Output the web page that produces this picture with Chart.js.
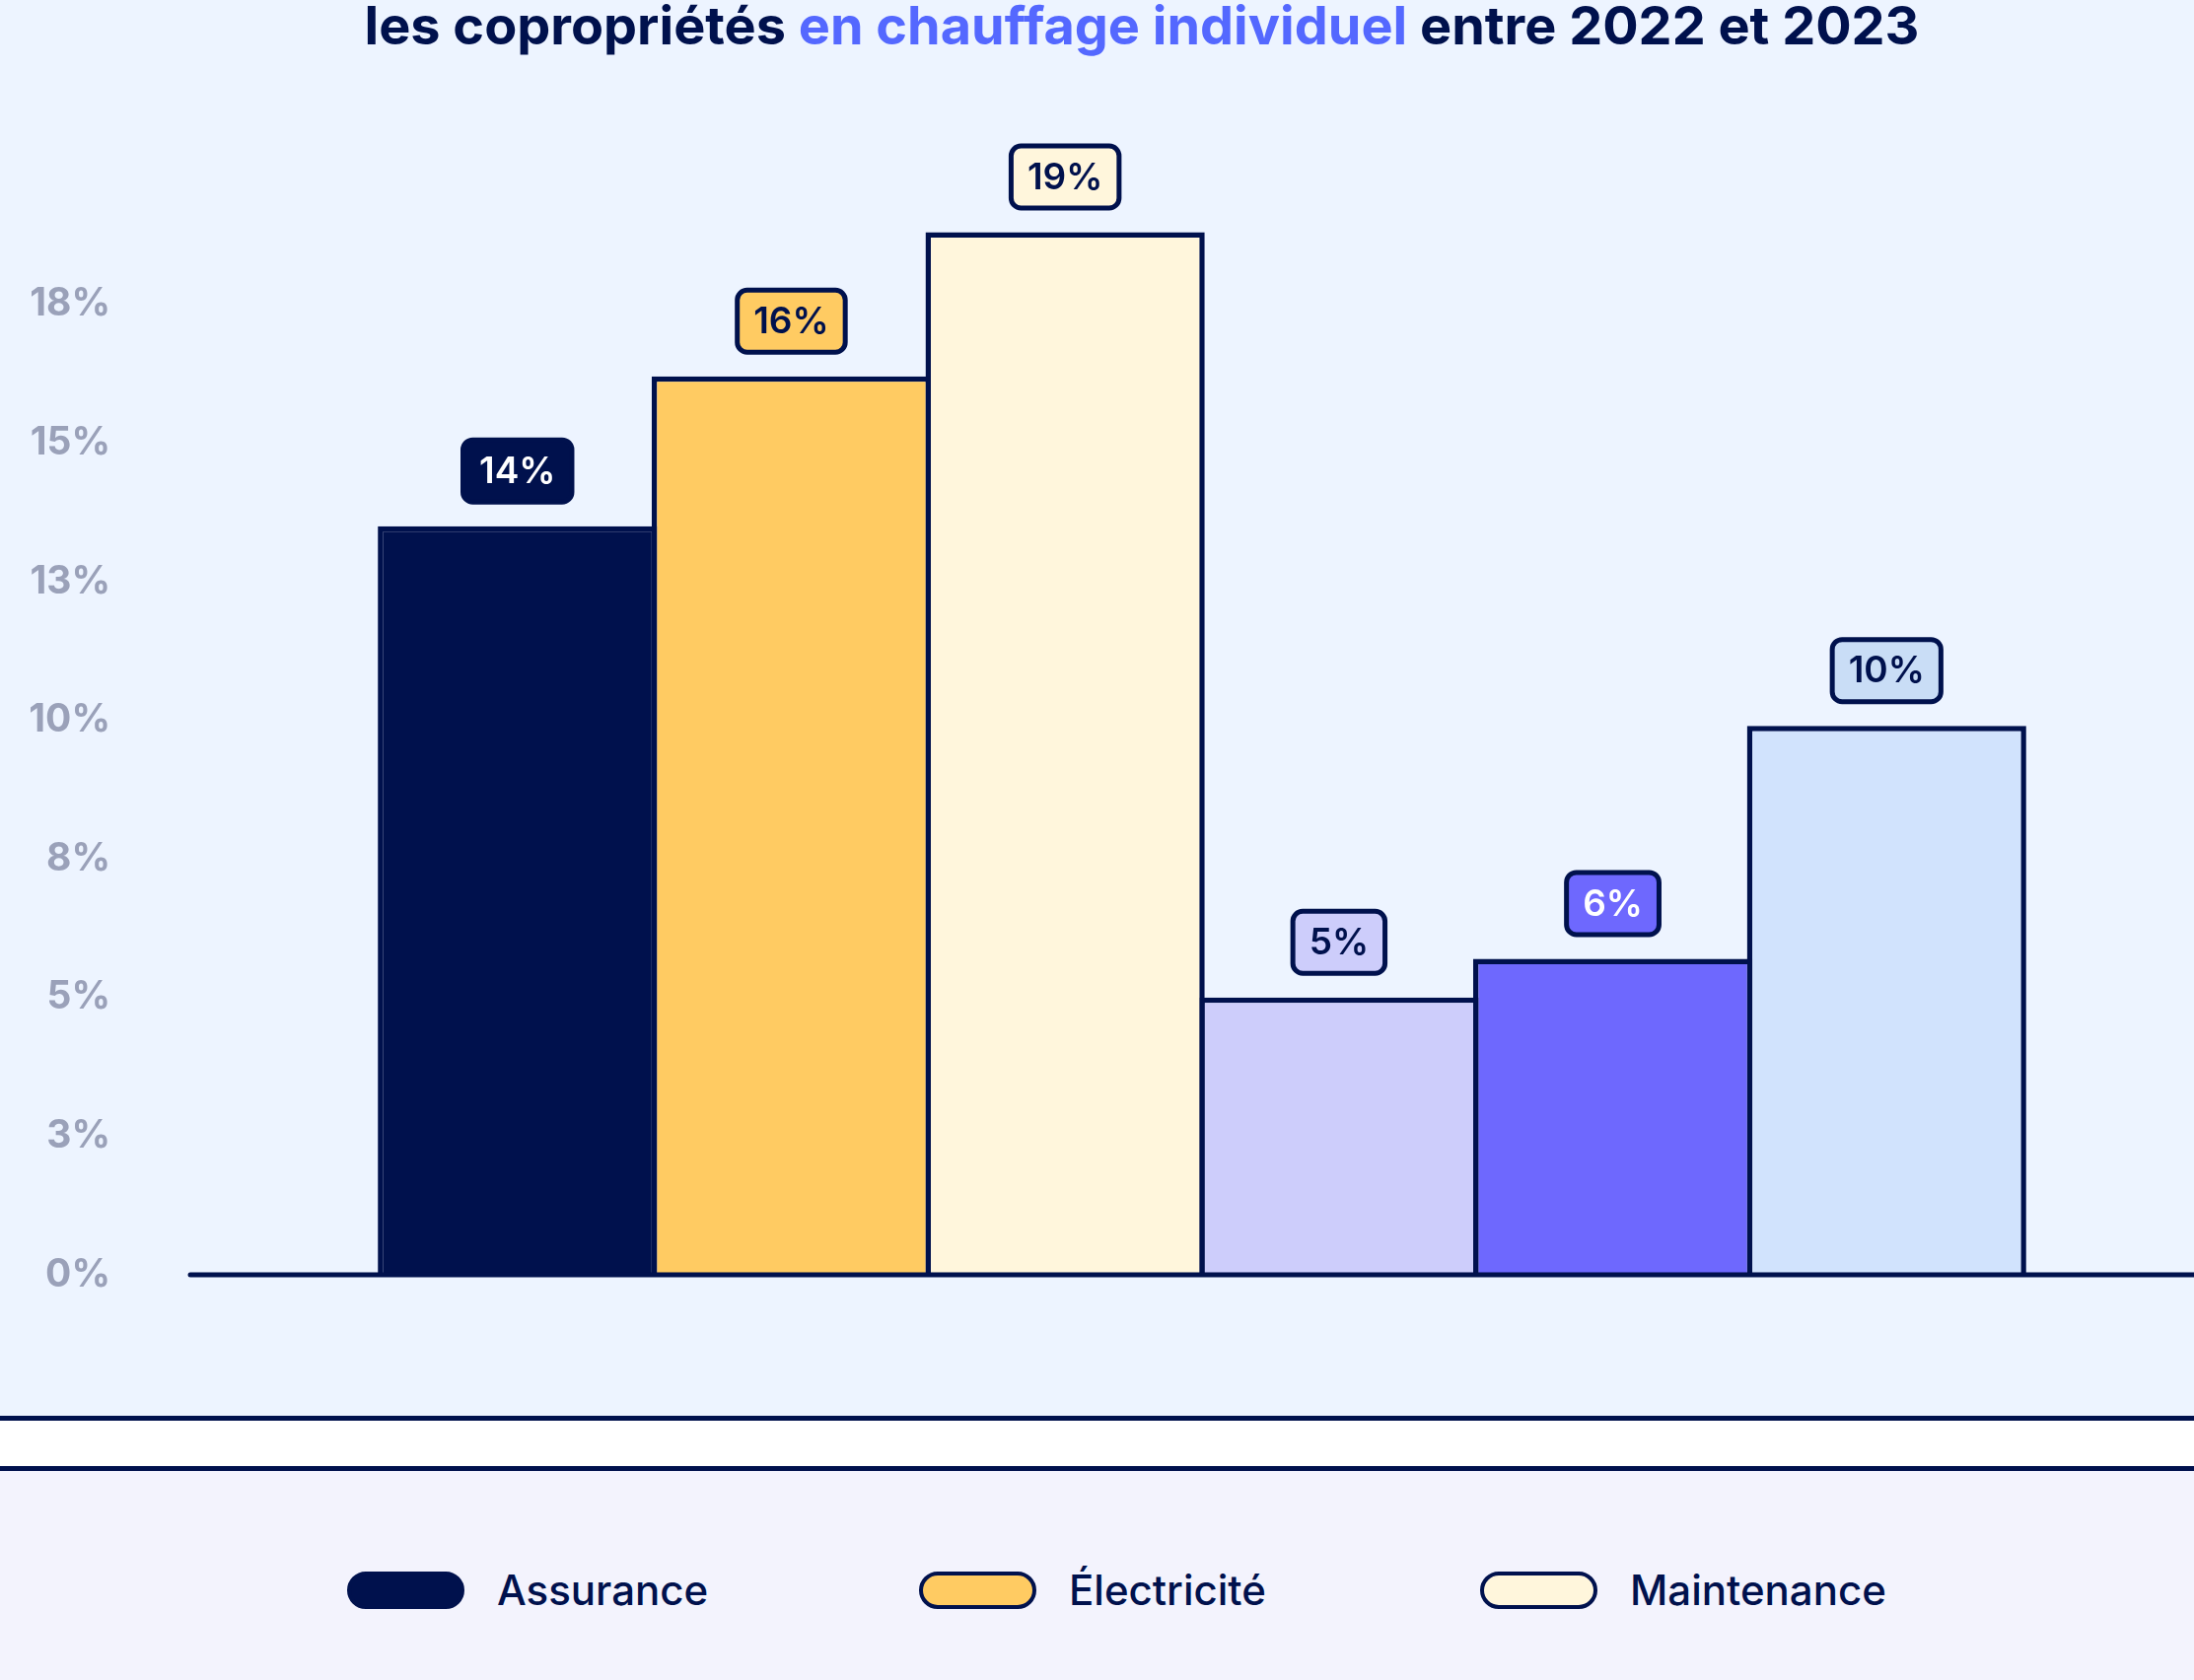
<!DOCTYPE html>
<html><head><meta charset="utf-8">
<script src="https://cdn.jsdelivr.net/npm/chart.js@4.4.1/dist/chart.umd.min.js"></script>
<style>
html,body{margin:0;padding:0;width:2225px;height:1704px;overflow:hidden;background:#f3f3fd;font-family:Inter,sans-serif;}
#top{position:absolute;left:0;top:0;width:2225px;height:1436px;background:#edf4ff;}
.navy{position:absolute;left:0;width:2225px;height:5px;background:#00114d;}
#band{position:absolute;left:0;top:1441px;width:2225px;height:46px;background:#ffffff;}
#title{position:absolute;left:0;top:-4px;width:2316px;text-align:center;font-weight:700;font-size:54px;color:#00114d;white-space:nowrap;line-height:60px;}
#title span{color:#5468ff;}
#wrap{position:absolute;left:0;top:0;width:2245px;height:1436px;}
.item{position:absolute;top:1594px;display:flex;align-items:center;height:38px;}
.sw{box-sizing:border-box;width:119px;height:38px;border:4px solid #00114d;border-radius:19px;}
.lbl{font-size:42px;font-weight:500;color:#00114d;margin-left:33px;line-height:38px;}
</style>
</head>
<body>
<div id="top"></div>
<div class="navy" style="top:1436px"></div>
<div id="band"></div>
<div class="navy" style="top:1487px"></div>
<div id="title">les copropriétés <span>en chauffage individuel</span> entre 2022 et 2023</div>
<div id="wrap"><canvas id="c" width="2245" height="1436"></canvas></div>
<div id="legend"></div>
<script>
// ---- data ----
const categories = [''];
const seriesNames = ['Assurance', 'Électricité', 'Maintenance', '', '', ''];
const seriesValues = [13.5, 16.2, 18.8, 5.0, 5.7, 9.9];
const tickValues = [0, 2.5, 5, 7.5, 10, 12.5, 15, 17.5];
const tickLabels = ['0%', '3%', '5%', '8%', '10%', '13%', '15%', '18%'];
const legendNames = ['Assurance', 'Électricité', 'Maintenance'];

// ---- styles ----
const NAVY = '#00114d';
const fillColors = ['#00114d', '#ffcb62', '#fff6dc', '#cdcdfb', '#6e68fe', '#d1e3fd'];
const boxColors = ['#00114d', '#ffcb62', '#fff6dc', '#cdcdfb', '#6e68fe', '#c9ddf6'];
const boxTextColors = ['#ffffff', NAVY, NAVY, NAVY, '#ffffff', NAVY];
const legendPos = [352, 932, 1501];

const BW = 5.5;
const BAR_W = 277.7;

const datasets = seriesValues.map((v, i) => ({
  label: seriesNames[i],
  data: [v],
  backgroundColor: fillColors[i],
  borderColor: NAVY,
  borderWidth: BW,
  borderSkipped: 'bottom',
  barPercentage: (BAR_W + BW) / BAR_W,
  categoryPercentage: 0.812
}));

const axisLine = {
  id: 'axisLine',
  afterDatasetsDraw(chart) {
    const ctx = chart.ctx, a = chart.chartArea;
    const y = chart.scales.y.getPixelForValue(0);
    ctx.save();
    ctx.strokeStyle = NAVY;
    ctx.lineWidth = 5;
    ctx.lineCap = 'round';
    ctx.beginPath();
    ctx.moveTo(a.left, y);
    ctx.lineTo(a.right + 10, y);
    ctx.stroke();
    ctx.restore();
  }
};

function rr(ctx, x, y, w, h, r) {
  ctx.beginPath();
  ctx.moveTo(x + r, y);
  ctx.lineTo(x + w - r, y);
  ctx.arcTo(x + w, y, x + w, y + r, r);
  ctx.lineTo(x + w, y + h - r);
  ctx.arcTo(x + w, y + h, x + w - r, y + h, r);
  ctx.lineTo(x + r, y + h);
  ctx.arcTo(x, y + h, x, y + h - r, r);
  ctx.lineTo(x, y + r);
  ctx.arcTo(x, y, x + r, y, r);
  ctx.closePath();
}

const valueBoxes = {
  id: 'valueBoxes',
  afterDatasetsDraw(chart) {
    const ctx = chart.ctx;
    ctx.save();
    ctx.font = '600 37px Inter';
    ctx.textAlign = 'center';
    ctx.textBaseline = 'middle';
    chart.data.datasets.forEach((ds, i) => {
      const el = chart.getDatasetMeta(i).data[0];
      const txt = Math.round(ds.data[0]) + '%';
      const tw = ctx.measureText(txt).width;
      const W = tw + 38, H = 68;
      const bottom = el.y - 22;
      const top = bottom - H;
      rr(ctx, el.x - W / 2 + 2.5, top + 2.5, W - 5, H - 5, 10);
      ctx.fillStyle = boxColors[i];
      ctx.fill();
      ctx.lineWidth = 5;
      ctx.strokeStyle = NAVY;
      ctx.stroke();
      ctx.fillStyle = boxTextColors[i];
      ctx.fillText(txt, el.x, top + H / 2 + 1);
    });
    ctx.restore();
  }
};

new Chart(document.getElementById('c'), {
  type: 'bar',
  data: { labels: categories, datasets },
  options: {
    responsive: false,
    animation: false,
    devicePixelRatio: 1,
    layout: { padding: { top: 168, bottom: 143, left: 0, right: 0 } },
    plugins: { legend: { display: false }, title: { display: false }, tooltip: { enabled: false } },
    scales: {
      x: { display: false },
      y: {
        min: 0, max: 20,
        afterBuildTicks: s => { s.ticks = tickValues.map(v => ({ value: v })); },
        afterFit: s => { s.width = 193; },
        grid: { display: false, drawTicks: false },
        border: { display: false },
        ticks: {
          padding: 81,
          color: '#9aa1b9',
          font: { family: 'Inter', size: 39, weight: '700' },
          callback: v => tickLabels[tickValues.indexOf(v)]
        }
      }
    }
  },
  plugins: [axisLine, valueBoxes]
});

// legend
const lg = document.getElementById('legend');
legendNames.forEach((n, i) => {
  const it = document.createElement('div');
  it.className = 'item';
  it.style.left = legendPos[i] + 'px';
  const sw = document.createElement('div');
  sw.className = 'sw';
  sw.style.background = fillColors[i];
  const lb = document.createElement('div');
  lb.className = 'lbl';
  lb.textContent = n;
  it.appendChild(sw); it.appendChild(lb);
  lg.appendChild(it);
});
</script>
</body></html>
